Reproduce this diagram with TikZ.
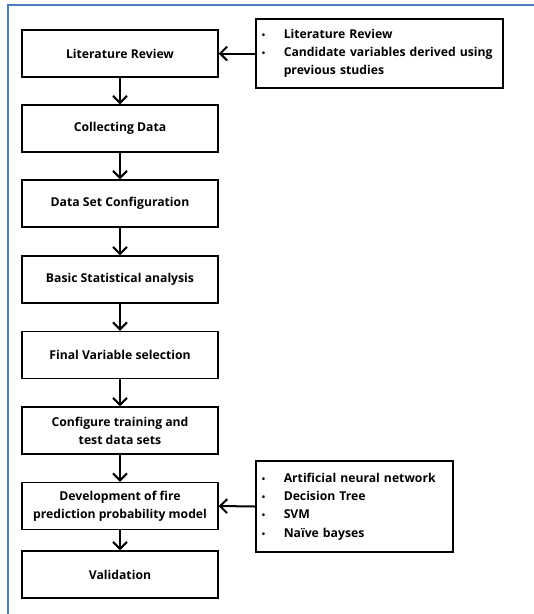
\documentclass[tikz,border=0pt]{standalone}
\usepackage{fontspec}
\setmainfont{Open Sans}
\usetikzlibrary{arrows.meta,positioning}

\tikzset{
  stepbox/.style={draw=black, line width=1.5pt, fill=white,
    minimum width=196pt, minimum height=47pt, align=center,
    inner sep=2pt, font=\bfseries\fontsize{12.2}{18}\selectfont},
  notebox/.style={draw=black, line width=1.5pt, fill=white,
    align=left, inner sep=0pt, font=\bfseries\fontsize{12.2}{18.3}\selectfont},
  flow/.style={line width=2pt, -{Straight Barb[length=7pt,width=14pt,line width=2pt]}},
  frameline/.style={draw={rgb,255:red,74;green,126;blue,187}, line width=2pt}
}

\newcommand{\bulletrow}[1]{\makebox[27pt][l]{\hspace{5pt}{\fontsize{9}{9}\selectfont •}}#1}

\begin{document}
\begin{tikzpicture}[x=1pt, y=-1pt]
  \useasboundingbox (0,0) rectangle (534,614);

  % outer frame (top and left edges)
  \draw[frameline] (7.5,614) -- (7.5,4.5) -- (534,4.5);

  % main process steps
  \node[stepbox] (lit)    at (120,53.5)  {Literature Review};
  \node[stepbox] (collect) at (120,128.5) {Collecting Data};
  \node[stepbox] (dataset) at (120,203.5) {Data Set Configuration};
  \node[stepbox] (basic)  at (120,279.5) {Basic Statistical analysis};
  \node[stepbox] (final)  at (120,355)   {Final Variable selection};
  \node[stepbox] (config) at (120,430.5) {Configure training and\\test data sets};
  \node[stepbox] (devel)  at (120,506)   {Development of fire\\prediction probability model};
  \node[stepbox] (valid)  at (120,574.5) {Validation};

  % side notes
  \node[notebox, minimum width=247pt, minimum height=69pt, anchor=west,
        text width=245pt] (litnote) at (255,53.5)
    {\bulletrow{Literature Review}\\
     \bulletrow{Candidate variables derived using}\\
     \hspace*{27pt}previous studies};
  \node[notebox, minimum width=197pt, minimum height=91pt, anchor=west,
        text width=195pt] (modnote) at (255,506.5)
    {\bulletrow{Artificial neural network}\\
     \bulletrow{Decision Tree}\\
     \bulletrow{SVM}\\
     \bulletrow{Naïve bayses}};

  % connectors
  \draw[flow] (lit) -- (collect);
  \draw[flow] (collect) -- (dataset);
  \draw[flow] (dataset) -- (basic);
  \draw[flow] (basic) -- (final);
  \draw[flow] (final) -- (config);
  \draw[flow] (config) -- (devel);
  \draw[flow] (devel) -- (valid);
  \draw[flow] (litnote.west) -- (lit.east);
  \draw[flow] (modnote.west) -- (devel.east);
\end{tikzpicture}
\end{document}
